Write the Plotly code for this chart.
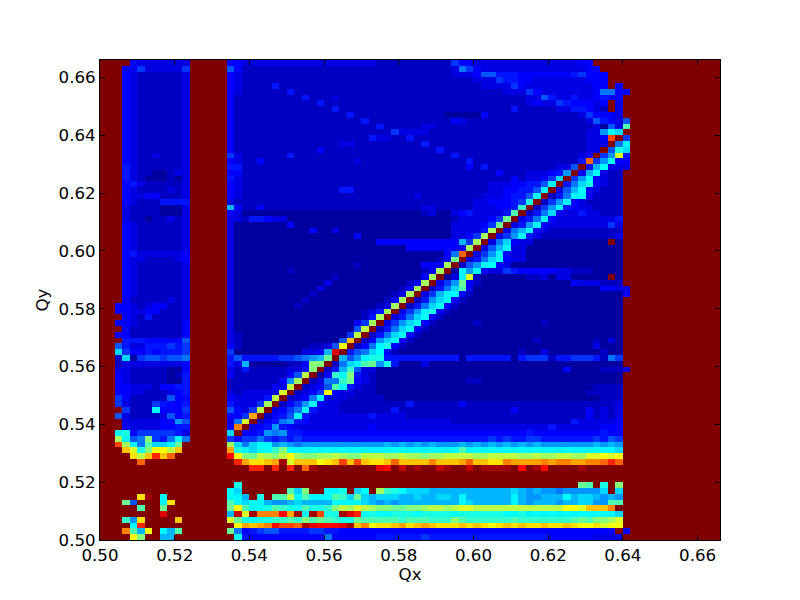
import plotly.graph_objects as go

# Tune values, one base-36 character per cell (0 = lowest, z = highest).
# Rows run from the top of the chart (Qy index 82) down to the bottom (index 0).
# left_rows: columns 0-11
left_rows = [
"zzzz43333333","zzz446333336","zzz432222223","zzz432222223","zzz432222223","zzz432222223",
"zzz432222223","zzz432222223","zzz432222223","zzz432222223","zzz432222223","zzz432222223",
"zzz432222223","zzz432222223","zzz432222223","zzz432222223","zzz432232223","zzz432222223",
"zzz532222223","zzz532211233","zzz532111213","zzz453222223","zzz432222323","zzz433442223",
"zzz432225555","zzz322221113","zzz322221113","zzz322122323","zzz432222223","zzz432222223",
"zzz432222223","zzz432222223","zzz432222223","zzz453333334","zzz433222234","zzz432222223",
"zzz432222223","zzz432222223","zzz432222223","zzz432222223","zzz432222223","zzz422222323",
"zz4432344223","zz4433442223","zzz432522223","zz4432222224","zzz422222224","zz4422222224",
"zzz555444447","zz7533555656","zzb644545556","zz2b16776778","zz2333333334","zz3322222114",
"zz4322222125","zz4322222115","zz4433324455","zz4433222345","zz6422222744","zz6322265445",
"zzz6222c4446","zz7322223745","zzz333334497","zzz433334455","zzce46666653","zzjc78i658c8",
"zztjc8gbbchz","zzzpleimnkpz","zzzzokpupszz","zzzzzszzzzzz","zzzzzzzzzzzz","zzzzzzzzzzzz",
"zzzzzzzzzzzz","zzzzzzzzzzzz","zzzzzzzzzzzz","zzzzzoyzczzz","zzzh7zzzcozz","zzzzzgzzhzzz",
"zzzzzzzzwzzz","zzzf9ozzzzpz","zzzzduzzzzzz","zzzrgamzcagz","zzzznizzaazz",
]
# main_rows: columns 17-70, spaced in groups for readability
main_rows = [
"4433333333 3333333333 2222222222 6443333333 333333344z zzzz",
"7422222222 2222222222 2222222222 3864333333 3333333344 zzzz",
"4322222222 2222222222 2222222222 3334775554 4444445644 4zzz",
"4322222222 2222222222 2222222222 2223336554 4333333344 4zzz",
"4322225222 2222222222 2222222222 2222333364 3333333334 4z4z",
"4322222252 2222222222 2222222222 2222222333 6433333334 8844",
"4222222222 5222322222 2222222222 2222222222 3375335334 544z",
"4222222222 2252222222 2222222222 2222222222 3433654443 4z3z",
"4222222222 2222522222 2222222222 2222222252 2222335543 2z3z",
"4222222222 2222225222 2222222221 1111422222 2222222364 443z",
"4222222222 2222222252 2222222222 4322222222 2222222237 5437",
"4222222222 2222222222 5222223322 2222222222 2222222223 173g",
"4222222222 2222222222 2263333222 2222222222 2222222233 9cbz",
"4222222222 2222222225 3322522222 2222222222 2222222233 4tz6",
"4222222222 2222233222 2222225222 2222222222 2222222233 3z8c",
"4222222222 2242222222 2222222252 2222222222 2222222233 z7eb",
"6322222252 2222222222 2222222222 5222222222 222222234z 69l5",
"4322422222 2222222322 2222222222 2252222222 222222 25s6 9d44",
"5522222222 2222222222 2222222222 2242522222 2222337z5a d333",
"4422222222 2222222222 2222222222 2222224222 333459z4ad 322z",
"5322222222 2222222222 2222222222 2222222242 3346bz69c4 322z",
"4322222222 2222222222 2222222222 2222233344 557cz58be4 322z",
"4322222222 2222255222 2222222222 2222233445 57cz37ad43 222z",
"4322222222 2222222222 2222232222 2222333455 7dz258cd42 222z",
"3222222222 2222222222 2222222222 2223344456 ez269c4322 222z",
"a422422222 2222222222 2222223322 2223334 45f z269c54332 222z",
"4311111111 1111111111 1111112311 3453333 5gz 258b433533 222z",
"3325543311 1111111111 1111111111 2333346hz3 58c4333333 335z",
"3111111141 1111111111 1111111111 333346hz35 9c43333333 363z",
"3111111111 1411311111 1111111111 33335jz38a c432222222 222z",
"3111111111 1111111411 1111111111 3346jz369c 5322222222 223z",
"3111111111 1111111111 4444444444 4a6jz38b43 3111111111 1z1z",
"3111111111 1111111111 1111444444 44jz37ac33 1111111111 111z",
"3111111111 1111111111 1111111114 8sz369c433 1111111111 111z",
"3111111111 1111111111 1111111124 hz358bd433 1111111111 111z",
"3111111111 1111111211 111111444j z279cd4311 1111111111 111z",
"3111111121 1111111111 11111124jz 1c9c433654 4444332221 111z",
"3111111111 1111211111 1111114jz1 3cl2111111 2231331111 1z1z",
"3111111111 1113111111 111124jz36 9h42111111 1111114333 222z",
"3111111111 1131111111 11124jz258 bg41111111 1111111111 4433",
"3111111111 1211111111 1123jz36ac d421111111 1111111111 1114",
"3111111111 2111111111 124jz259bd 4211111111 1111111111 111z",
"3111111112 1111111111 23jz258bd4 2111111111 1111111111 111z",
"3111111111 1111111123 5jz369ce42 1111111111 1111111111 111z",
"3111111111 1111111125 jz358bd421 1111111111 1111111111 111z",
"3111111111 111111146j z369bd4211 1112111111 1121111111 111z",
"3111111111 1111111 7kz 258bd42111 1111111111 1111111111 111z",
"3211111111 1111116kz2 58bd421111 1111111111 1111111111 111z",
"3211111111 111117pz24 9bd4211111 1111111111 1211111112 131z",
"4211111111 12237mz248 ce42111111 1111111111 1111111113 111z",
"6111111111 334awz578b d421111111 1111111112 1131111111 211z",
"5755555667 89ahza79ce e555555555 5155555515 6662556665 286z",
"53a1111122 4iiz28bcgh 9e51113111 1111111111 1111111111 111z",
"3252222233 5iz25af733 1111111111 1111111111 1111141111 2223",
"4222222247 kz14fdi532 1111111111 1111111111 1111111111 111z",
"222222249j z2388fh432 1111111111 1122111111 1111111111 111z",
"22222244kz 2347gc5322 1111111111 1111111111 1111111112 222z",
"3233333lz2 346m433222 1111111111 1111111111 1111111122 222z",
"433335kz23 48c4332222 2111111111 1111111111 1111111111 222z",
"53336jz246 9c43322222 2222522222 2422222222 2222222222 223z",
"7436kz3468 c533322222 2252222222 2222222242 2222222242 323z",
"446qz2457c 5333333335 3333222222 2222222222 2222222242 323z",
"38lz245895 4333333333 3333333333 2222222222 2222225333 334z",
"4rz3459543 3333333334 3333333333 3333333333 3335333333 444z",
"bz44598955 4444444444 4444444444 4444444444 5444444444 544z",
"6466865656 5555555555 5555555555 5555565655 6655555556 576z",
"jb8bdc9a98 9999999999 9a9a9a9a99 9a9a9a9a9a 9a9999999a 9a9z",
"qecbddfidc cdcdcdcdcc ccddcdcccc dgcdcdcdcd cdcccdcccd ccbz",
"vmihkjiknj iijjkjiikk kjjkjjijjk kkkjjkkkkj jkjjkkjjll mlmz",
"zuqoopqylp ppmoptptpo opspppprpp pqsppoorqq qqrqrrqqrr susz",
"zzzuuzuzuz syzzzzzzzz wvzxzyzzxy zzxzyyyyzv zyvzzzzyzz zzzz",
"zzzzzzzzzz zzzzzzzzzz zzzzzzzzzz zzzzzzzzzz zzzzzzzzzz zzzz",
"zzzzzzzzzz zzzzzzzzzz zzzzzzzzzz zzzzzzzzzz zzzzzzzzzz zzzz",
"zezzzzzzzz zzzzzzzzzz zzzzzzzzzz zzzzzzzzzz zzzzzzzhgz eziz",
"dbzzzzzzgb izzccezbdz jfedbbbaaa aaaaaaaaba 9a99899999 bzbz",
"ccazezggkc gccdgfbhba bbbaabaabb acaaaaaaca 99aaadabba 9a9z",
"gcbdca99ab aaaadcccba 9a9aaaaaaa acbaaaaaca 9aaa9aabb9 9ggz",
"hngcdegfed geefikjlkj iihhiijkkj kllkkkkkkk kkkkkmmlpp przz",
"axlyrrrvqy dyteeywude ddeeedeeee deeeeeedde cdcdcdcddd dcbz",
"lhedeeffgf ighgfeehgg gggfgggfff igffffffgf ffffffghgi ijlz",
"znqpqrvtts ywvvvwyprn oopqopqpoo opoponopop oopoopomno lmmz",
"h845677555 5665544444 4444444444 4444444444 4444444444 44z4",
"zd54444444 4448444444 5555556555 5555555555 5554444443 333z",
]
gap_columns = 5      # columns 12-16, all at the top of the scale
right_columns = 12   # columns 71-82, all at the top of the scale
x_start = 0.50
y_start = 0.50
cell = 0.002
tick_values = [0.50, 0.52, 0.54, 0.56, 0.58, 0.60, 0.62, 0.64, 0.66]

def level(c):
    return int(c, 36)

z = []
for left, main in zip(left_rows, main_rows):
    m = main.replace(" ", "")
    m = (m + "z" * 54)[:54]
    l = (left + "z" * 12)[:12]
    s = l + "z" * gap_columns + m + "z" * right_columns
    z.append([level(c) for c in s])
z.reverse()

jet = [
    [0.0, "rgb(0,0,128)"], [0.11, "rgb(0,0,255)"], [0.125, "rgb(0,0,255)"],
    [0.35, "rgb(0,255,255)"], [0.375, "rgb(0,255,255)"], [0.64, "rgb(255,255,0)"],
    [0.66, "rgb(255,255,0)"], [0.89, "rgb(255,0,0)"], [1.0, "rgb(128,0,0)"],
]

fig = go.Figure(go.Heatmap(
    z=z, x0=x_start + cell / 2, dx=cell, y0=y_start + cell / 2, dy=cell,
    zmin=0, zmax=35, colorscale=jet, showscale=False, hoverinfo="skip",
))
axis = dict(
    tickvals=tick_values, tickformat=".2f", ticks="inside", ticklen=5, tickwidth=1,
    tickcolor="black", showline=True, linecolor="black", linewidth=1, mirror="ticks",
    showgrid=False, zeroline=False, tickfont=dict(family="DejaVu Sans", size=16.67, color="black"),
)
fig.update_xaxes(range=[0.5, 0.666], title=dict(text="Qx", standoff=0,
                 font=dict(family="DejaVu Sans", size=16.67, color="black")), **axis)
fig.update_yaxes(range=[0.5, 0.666], title=dict(text="Qy", standoff=5,
                 font=dict(family="DejaVu Sans", size=16.67, color="black")), **axis)
fig.update_layout(
    width=800, height=600, autosize=False, paper_bgcolor="white", plot_bgcolor="white",
    margin=dict(l=100, r=80, t=60, b=60, pad=0),
)
fig.write_html("out.html", post_script="document.body.style.margin='0';",
               config={"displayModeBar": False})
